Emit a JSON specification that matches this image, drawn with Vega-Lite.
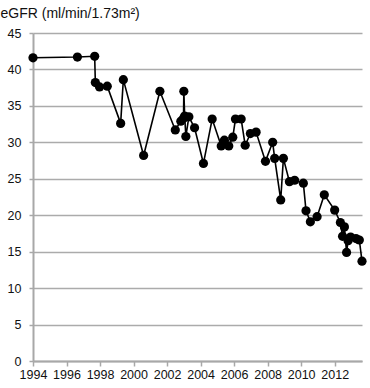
{
  "$schema": "https://vega.github.io/schema/vega-lite/v6.json",
  "autosize": "none",
  "width": 329,
  "height": 328,
  "padding": {"left": 33, "top": 33, "right": 8, "bottom": 27},
  "background": "white",
  "config": {
    "view": {"stroke": null},
    "font": "Liberation Sans",
    "axis": {"labelFont": "Liberation Sans", "titleFont": "Liberation Sans"}
  },
  "data": {
    "values": [
      {"year": 1994.0, "egfr": 41.6},
      {"year": 1996.65, "egfr": 41.7},
      {"year": 1997.68, "egfr": 41.8},
      {"year": 1997.72, "egfr": 38.2},
      {"year": 1997.97, "egfr": 37.6},
      {"year": 1998.43, "egfr": 37.7},
      {"year": 1999.23, "egfr": 32.6},
      {"year": 1999.39, "egfr": 38.6},
      {"year": 2000.6, "egfr": 28.2},
      {"year": 2001.57, "egfr": 37.0},
      {"year": 2002.49, "egfr": 31.7},
      {"year": 2002.82, "egfr": 32.9},
      {"year": 2002.98, "egfr": 33.3},
      {"year": 2003.0, "egfr": 37.0},
      {"year": 2003.05, "egfr": 33.6},
      {"year": 2003.12, "egfr": 30.8},
      {"year": 2003.3, "egfr": 33.5},
      {"year": 2003.64, "egfr": 32.0},
      {"year": 2004.17, "egfr": 27.1},
      {"year": 2004.69, "egfr": 33.2},
      {"year": 2005.23, "egfr": 29.5},
      {"year": 2005.42, "egfr": 30.3},
      {"year": 2005.68, "egfr": 29.5},
      {"year": 2005.92, "egfr": 30.7},
      {"year": 2006.08, "egfr": 33.2},
      {"year": 2006.42, "egfr": 33.2},
      {"year": 2006.66, "egfr": 29.6},
      {"year": 2006.97, "egfr": 31.2},
      {"year": 2007.31, "egfr": 31.4},
      {"year": 2007.87, "egfr": 27.4},
      {"year": 2008.3, "egfr": 30.0},
      {"year": 2008.42, "egfr": 27.8},
      {"year": 2008.78, "egfr": 22.1},
      {"year": 2008.94, "egfr": 27.8},
      {"year": 2009.3, "egfr": 24.6},
      {"year": 2009.61, "egfr": 24.8},
      {"year": 2010.13, "egfr": 24.4},
      {"year": 2010.29, "egfr": 20.6},
      {"year": 2010.55, "egfr": 19.1},
      {"year": 2010.95, "egfr": 19.8},
      {"year": 2011.38, "egfr": 22.8},
      {"year": 2012.0, "egfr": 20.7},
      {"year": 2012.34, "egfr": 19.0},
      {"year": 2012.47, "egfr": 17.1},
      {"year": 2012.58, "egfr": 18.4},
      {"year": 2012.71, "egfr": 14.9},
      {"year": 2012.8, "egfr": 16.5},
      {"year": 2012.95, "egfr": 17.0},
      {"year": 2013.27, "egfr": 16.8},
      {"year": 2013.47, "egfr": 16.6},
      {"year": 2013.63, "egfr": 13.7}
    ]
  },
  "encoding": {
    "x": {
      "field": "year",
      "type": "quantitative",
      "scale": {"domain": [1994, 2013.63], "nice": false, "zero": false},
      "axis": {
        "title": null,
        "values": [1994, 1996, 1998, 2000, 2002, 2004, 2006, 2008, 2010, 2012],
        "format": "d",
        "grid": false,
        "domainColor": "#a8a8a8",
        "domainWidth": 2,
        "tickColor": "#a8a8a8",
        "tickWidth": 1.5,
        "tickSize": 5,
        "labelFontSize": 12.5,
        "labelColor": "#111",
        "labelPadding": 2,
        "labelFlush": false
      }
    },
    "y": {
      "field": "egfr",
      "type": "quantitative",
      "scale": {"domain": [0, 45], "nice": false},
      "axis": {
        "title": "eGFR (ml/min/1.73m²)",
        "titleAngle": 0,
        "titleX": -33,
        "titleY": -16,
        "titleAlign": "left",
        "titleBaseline": "alphabetic",
        "titleFontSize": 14,
        "titleFontWeight": "normal",
        "titleColor": "#111",
        "values": [0, 5, 10, 15, 20, 25, 30, 35, 40, 45],
        "grid": true,
        "gridColor": "#ababab",
        "gridWidth": 1.5,
        "domainColor": "#a8a8a8",
        "domainWidth": 2,
        "tickColor": "#a8a8a8",
        "tickWidth": 1.5,
        "tickSize": 4,
        "labelFontSize": 12.5,
        "labelColor": "#111",
        "labelPadding": 8
      }
    }
  },
  "layer": [
    {"mark": {"type": "line", "color": "black", "strokeWidth": 1.6, "clip": false}},
    {"mark": {"type": "circle", "color": "black", "opacity": 1, "size": 85, "clip": false}}
  ]
}
